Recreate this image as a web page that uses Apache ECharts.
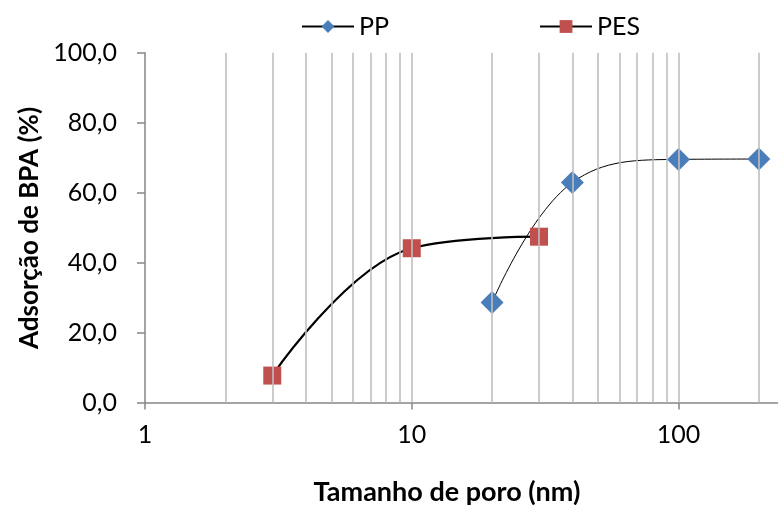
<!DOCTYPE html>
<html>
<head>
<meta charset="utf-8">
<script src="https://cdn.jsdelivr.net/npm/echarts@6/dist/echarts.min.js"></script>
<style>
html,body{margin:0;padding:0;background:#fff;}
#c{width:778px;height:505px;}
</style>
</head>
<body>
<div id="c"></div>
<script>
var ppX = [20, 40, 100, 200];
var ppY = [28.6, 62.9, 69.5, 69.6];
var pesX = [3, 10, 30];
var pesY = [7.7, 44.1, 47.4];
var gridValues = [2,3,4,5,6,7,8,9,10,20,30,40,50,60,70,80,90,100,200];
var xTitle = 'Tamanho de poro (nm)';
var yTitle = 'Adsorção de BPA (%)';

var FONT = 'Lato, "Open Sans", sans-serif';
var chart = echarts.init(document.getElementById('c'), null, {renderer: 'canvas'});

function pairs(xs, ys) { return xs.map(function (x, i) { return [x, ys[i]]; }); }

chart.setOption({
  animation: false,
  backgroundColor: '#ffffff',
  grid: {left: 145, top: 52.7, bottom: 102.5, right: 0, containLabel: false},
  legend: {
    left: 296, top: 9,
    itemWidth: 52, itemHeight: 16, itemGap: 150,
    textStyle: {fontFamily: FONT, fontSize: 25, color: '#000'},
    data: ['PP', 'PES']
  },
  xAxis: {
    type: 'log', logBase: 10, min: 1, max: 236,
    axisLine: {lineStyle: {color: '#868686', width: 1.5}},
    axisTick: {show: true, inside: false, length: 7, lineStyle: {color: '#868686', width: 1.5}},
    axisLabel: {fontFamily: FONT, fontSize: 25, color: '#000', margin: 20, showMaxLabel: false},
    splitLine: {show: false},
    minorTick: {show: false}
  },
  yAxis: {
    type: 'value', min: 0, max: 100, interval: 20,
    axisLine: {show: true, lineStyle: {color: '#868686', width: 1.5}},
    axisTick: {show: true, inside: false, length: 8, lineStyle: {color: '#868686', width: 1.5}},
    axisLabel: {fontFamily: FONT, fontSize: 25, color: '#000', margin: 28,
      formatter: function (v) { return v.toFixed(1).replace('.', ','); }},
    splitLine: {show: false}
  },
  graphic: [
    {type: 'text', x: 447, y: 492, z: 10,
     style: {text: xTitle, fontFamily: FONT, fontSize: 27, fontWeight: 'bold', fill: '#000',
             textAlign: 'center', textVerticalAlign: 'middle'}},
    {type: 'text', x: 30, y: 228, rotation: Math.PI / 2, z: 10,
     style: {text: yTitle, fontFamily: FONT, fontSize: 26, fontWeight: 'bold', fill: '#000',
             textAlign: 'center', textVerticalAlign: 'middle'}}
  ],
  series: [
    {
      name: 'grid', type: 'line', data: [], z: 1, silent: true,
      markLine: {
        silent: true, symbol: 'none', animation: false,
        label: {show: false},
        lineStyle: {color: '#bfbfbf', width: 1.6, type: 'solid'},
        data: gridValues.map(function (v) { return {xAxis: v}; })
      }
    },
    {
      name: 'PP', type: 'line', data: pairs(ppX, ppY), smooth: 0.4, z: 3,
      symbol: 'diamond', symbolSize: 23,
      itemStyle: {color: '#4a7ebb'},
      lineStyle: {color: '#000', width: 1}
    },
    {
      name: 'PES', type: 'line', data: pairs(pesX, pesY), smooth: 0.4, z: 4,
      symbol: 'rect', symbolSize: 18,
      itemStyle: {color: '#c0504d'},
      lineStyle: {color: '#000', width: 2.2}
    }
  ]
});
</script>
</body>
</html>
